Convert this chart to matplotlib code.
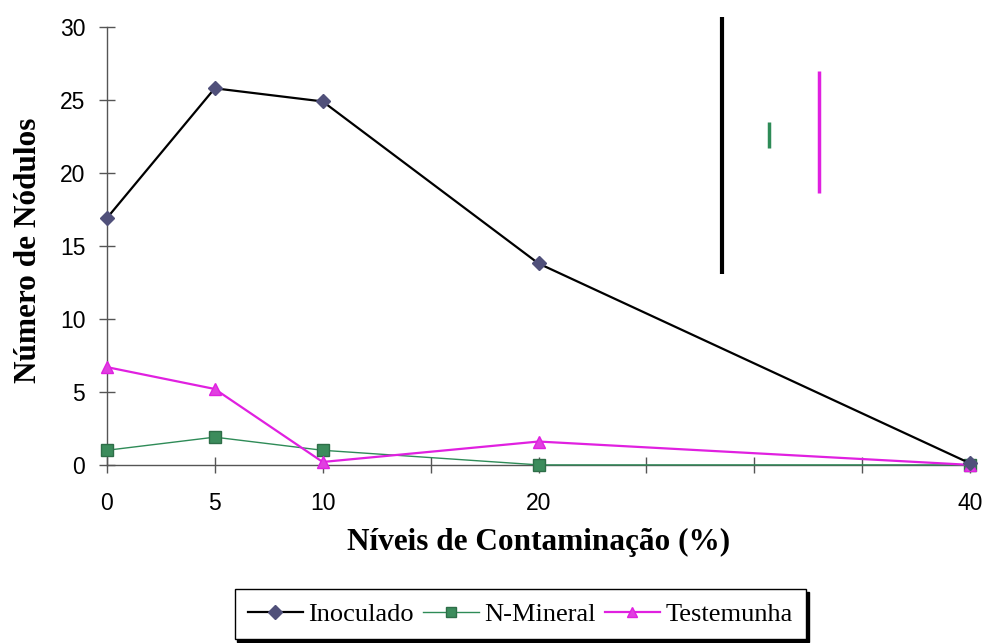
import matplotlib.pyplot as plt

# contamination levels (%) and mean nodule counts per treatment
niveis = [0, 5, 10, 20, 40]
inoculado = [16.9, 25.8, 24.9, 13.8, 0.1]
n_mineral = [1.0, 1.9, 1.0, 0.0, 0.0]
testemunha = [6.7, 5.2, 0.2, 1.6, 0.0]

# LSD bars drawn at the top right: x position, lower and upper y
dms_x = [28.5, 30.7, 33.0]
dms_low = [13.1, 21.7, 18.6]
dms_high = [30.7, 23.5, 27.0]
dms_cores = ['black', '#2e8b57', '#e020e0']

tick_labels = {0: '0', 5: '5', 10: '10', 20: '20', 40: '40'}

fig = plt.figure(figsize=(9.89, 6.43), dpi=100)
ax = fig.add_axes([0.108, 0.277, 0.873, 0.681])

ax.plot(niveis, inoculado, color='black', lw=1.6, marker='D', ms=7,
        mfc='#50507a', mec='#50507a', label='Inoculado', clip_on=False, zorder=4)
ax.plot(niveis, n_mineral, color='#2e8b57', lw=1.0, marker='s', ms=8.5,
        mfc='#3c8c5c', mec='#2e6e48', label='N-Mineral', clip_on=False, zorder=3)
ax.plot(niveis, testemunha, color='#e020e0', lw=1.6, marker='^', ms=9,
        mfc='#e040e0', mec='#e020e0', label='Testemunha', clip_on=False, zorder=3)

for x, lo, hi, c in zip(dms_x, dms_low, dms_high, dms_cores):
    ax.vlines(x, lo, hi, color=c, lw=3 if c == 'black' else 2.5, clip_on=False)

ax.set_xlim(0, 40)
ax.set_ylim(0, 30)
ax.set_xticks(range(0, 41, 5))
ax.set_xticklabels([tick_labels.get(t, '') for t in range(0, 41, 5)])
ax.set_yticks(range(0, 31, 5))

for s in ['top', 'right']:
    ax.spines[s].set_visible(False)
for s in ['left', 'bottom']:
    ax.spines[s].set_color('#555555')
    ax.spines[s].set_linewidth(1.0)

ax.tick_params(direction='inout', length=11, width=1, color='#555555',
               labelsize=16.5, labelcolor='black')
ax.tick_params(axis='x', pad=14)
ax.tick_params(axis='y', pad=10)
for lab in ax.get_xticklabels() + ax.get_yticklabels():
    lab.set_family('Liberation Sans')

ax.set_xlabel('Níveis de Contaminação (%)', family='Liberation Serif',
              fontsize=22.5, fontweight='bold')
ax.set_ylabel('Número de Nódulos', family='Liberation Serif',
              fontsize=22.5, fontweight='bold')
ax.xaxis.set_label_coords(0.5, -0.178)
ax.xaxis.label.set_verticalalignment('center')
ax.yaxis.set_label_coords(-0.0904, 0.49)
ax.yaxis.label.set_verticalalignment('center')

leg = fig.legend(loc='center', bbox_to_anchor=(0.526, 0.045), ncol=3,
                 prop={'family': 'Liberation Serif', 'size': 19},
                 frameon=True, fancybox=False, shadow={'color': 'black', 'alpha': 1},
                 edgecolor='black', borderpad=0.5, handlelength=2.1,
                 handletextpad=0.2, columnspacing=0.35)
leg.get_frame().set_linewidth(1.0)
for h in leg.legend_handles:
    h.set_markersize(7)

fig.savefig('out.png', dpi=100)
